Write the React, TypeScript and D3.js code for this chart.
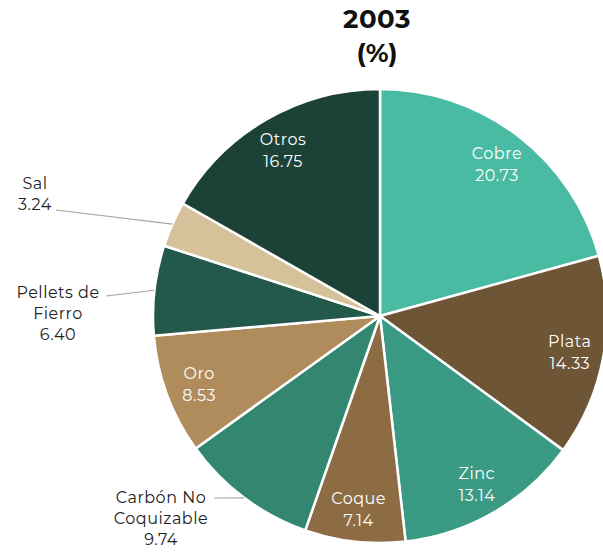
import * as d3 from "d3";
import React, { useEffect, useRef } from "react";

const categories = [
  "Cobre",
  "Plata",
  "Zinc",
  "Coque",
  "Carbón No Coquizable",
  "Oro",
  "Pellets de Fierro",
  "Sal",
  "Otros",
];
const values = [20.73, 14.33, 13.14, 7.14, 9.74, 8.53, 6.4, 3.24, 16.75];
const colors = [
  "#4abba3",
  "#6e5535",
  "#3a9a84",
  "#8d6c44",
  "#338670",
  "#b08b5b",
  "#22594b",
  "#d5c29b",
  "#1c4238",
];

// outside labels: text lines, block position and end of the leader line
const outsideLabels: Record<string, { lines: string[]; x: number; y: number; lx: number; ly: number }> = {
  Sal: { lines: ["Sal", "3.24"], x: 35, y: 183, lx: 56, ly: 210 },
  "Pellets de Fierro": { lines: ["Pellets de", "Fierro", "6.40"], x: 58, y: 292, lx: 106, ly: 296 },
  "Carbón No Coquizable": { lines: ["Carbón No", "Coquizable", "9.74"], x: 161, y: 497, lx: 214, ly: 498 },
};

const FONT = "Montserrat, 'Open Sans', sans-serif";

const App: React.FC = () => {
  const ref = useRef<SVGSVGElement>(null);

  useEffect(() => {
    const width = 603;
    const height = 553;
    const cx = 380;
    const cy = 316;
    const radius = 227;

    const svg = d3.select(ref.current);
    svg.selectAll("*").remove();
    svg.attr("width", width).attr("height", height);

    svg
      .append("text")
      .text("2003")
      .attr("x", 377)
      .attr("y", 28)
      .attr("text-anchor", "middle")
      .attr("font-family", FONT)
      .attr("font-size", "26px")
      .attr("font-weight", "700")
      .attr("letter-spacing", "0.5px")
      .attr("fill", "#111");
    svg
      .append("text")
      .text("(%)")
      .attr("x", 377)
      .attr("y", 62)
      .attr("text-anchor", "middle")
      .attr("font-family", FONT)
      .attr("font-size", "26px")
      .attr("font-weight", "700")
      .attr("fill", "#111");

    const data = categories.map((c, i) => ({ name: c, value: values[i], color: colors[i] }));
    const pie = d3
      .pie<{ name: string; value: number; color: string }>()
      .sort(null)
      .value((d) => d.value);
    const arcs = pie(data);

    const arc = d3
      .arc<d3.PieArcDatum<{ name: string; value: number; color: string }>>()
      .innerRadius(0)
      .outerRadius(radius);

    const g = svg.append("g").attr("transform", `translate(${cx},${cy})`);

    g.selectAll("path")
      .data(arcs)
      .enter()
      .append("path")
      .attr("d", (d) => arc(d) as string)
      .attr("fill", (d) => d.data.color)
      .attr("stroke", "#fff")
      .attr("stroke-width", 2.5)
      .attr("stroke-linejoin", "round");

    const inner = d3
      .arc<d3.PieArcDatum<{ name: string; value: number; color: string }>>()
      .innerRadius(radius * 0.85)
      .outerRadius(radius * 0.85);

    arcs.forEach((d) => {
      const out = outsideLabels[d.data.name];
      if (!out) {
        const [x, y] = inner.centroid(d);
        const t = g
          .append("text")
          .attr("text-anchor", "middle")
          .attr("font-family", FONT)
          .attr("font-size", "16px")
          .attr("letter-spacing", "0.5px")
          .attr("fill", "#fff");
        t.append("tspan").attr("x", x).attr("y", y - 4).text(d.data.name);
        t.append("tspan").attr("x", x).attr("y", y + 18).text(d.data.value.toFixed(2));
      } else {
        const mid = (d.startAngle + d.endAngle) / 2;
        const ax = cx + radius * Math.sin(mid);
        const ay = cy - radius * Math.cos(mid);
        svg
          .append("line")
          .attr("x1", out.lx)
          .attr("y1", out.ly)
          .attr("x2", ax)
          .attr("y2", ay)
          .attr("stroke", "#a6a6a6")
          .attr("stroke-width", 1.2);
        const t = svg
          .append("text")
          .attr("text-anchor", "middle")
          .attr("font-family", FONT)
          .attr("font-size", "16px")
          .attr("letter-spacing", "0.5px")
          .attr("fill", "#222");
        out.lines.forEach((l, i) => {
          t.append("tspan")
            .attr("x", out.x)
            .attr("y", out.y + 6 + i * 21)
            .text(l);
        });
      }
    });
  }, []);

  return <svg ref={ref} style={{ position: "absolute", left: 0, top: 0 }}></svg>;
};

export default App;
